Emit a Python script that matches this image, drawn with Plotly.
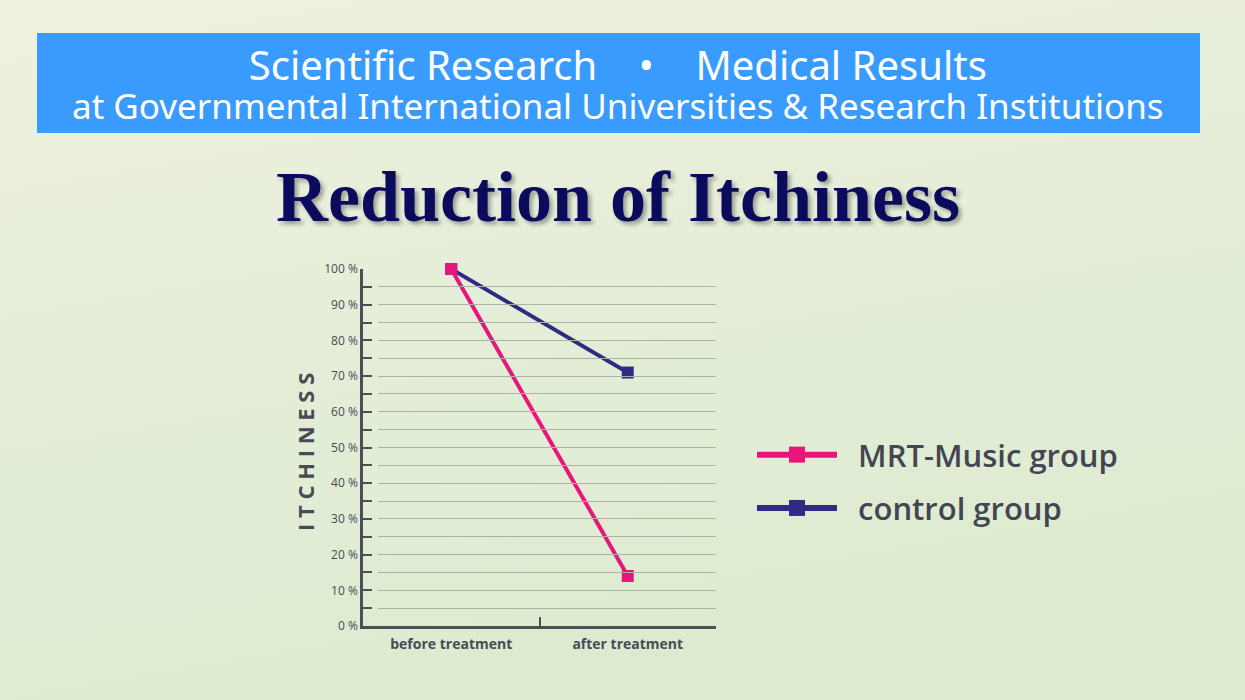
import base64
import plotly.graph_objects as go

categories = ["before treatment", "after treatment"]
mrt_values = [100, 14]
control_values = [100, 71]
series_names = ["MRT-Music group", "control group"]
y_tick_vals = [0, 10, 20, 30, 40, 50, 60, 70, 80, 90, 100]
y_tick_text = [f"{v} %" for v in y_tick_vals]
banner_line1 = "Scientific Research &nbsp;&nbsp;&nbsp;•&nbsp;&nbsp;&nbsp; Medical Results"
banner_line2 = "at Governmental International Universities &amp; Research Institutions"
title_text = "Reduction of Itchiness"
y_title = "I T C H I N E S S"

W, H = 1245, 700
PINK = "#e8157d"
NAVY = "#2f2b84"
BG = "#e4eed8"
TXT = "#4a4a58"
AX = "#4e4e58"

def px_x(v):
    return v / W

def px_y(v):
    return 1 - v / H

svg = ('<svg xmlns="http://www.w3.org/2000/svg" width="1245" height="700">'
       '<defs><linearGradient id="g" x1="0" y1="0" x2="0.3" y2="1">'
       '<stop offset="0" stop-color="#eef1de"/>'
       '<stop offset="0.5" stop-color="#e5eed8"/>'
       '<stop offset="1" stop-color="#dcebd0"/>'
       '</linearGradient></defs>'
       '<rect width="1245" height="700" fill="url(#g)"/></svg>')
bg_src = "data:image/svg+xml;base64," + base64.b64encode(svg.encode()).decode()

fig = go.Figure()

fig.add_trace(go.Scatter(x=categories, y=control_values, mode="lines+markers",
                         line=dict(color=NAVY, width=4),
                         marker=dict(symbol="square", size=12, color=NAVY),
                         cliponaxis=False, showlegend=False, name=series_names[1]))
fig.add_trace(go.Scatter(x=categories, y=mrt_values, mode="lines+markers",
                         line=dict(color=PINK, width=4),
                         marker=dict(symbol="square", size=12, color=PINK),
                         cliponaxis=False, showlegend=False, name=series_names[0]))

fig.add_trace(go.Scatter(x=[None], y=[None], mode="lines+markers",
                         name="\u00a0\u00a0" + series_names[0],
                         line=dict(color=PINK, width=6),
                         marker=dict(symbol="square", size=20, color=PINK),
                         legendgroup="a"))
fig.add_trace(go.Scatter(x=[None], y=[None], mode="lines+markers",
                         name="\u00a0\u00a0" + series_names[1],
                         line=dict(color=NAVY, width=6),
                         marker=dict(symbol="square", size=20, color=NAVY),
                         legendgroup="b"))

fig.add_trace(go.Scatter(x=categories, y=[None, None], xaxis="x2", yaxis="y2",
                         showlegend=False, hoverinfo="skip"))

x0, x1 = 363, 716
y_bot, y_top = 626, 269

fig.update_layout(
    width=W, height=H, autosize=False,
    margin=dict(l=0, r=0, t=0, b=0, pad=0, autoexpand=False),
    paper_bgcolor=BG, plot_bgcolor="rgba(0,0,0,0)",
    font=dict(family="Open Sans", color=TXT),
    images=[dict(source=bg_src, xref="paper", yref="paper", x=0, y=1,
                 sizex=1, sizey=1, xanchor="left", yanchor="top",
                 sizing="stretch", layer="below")],
    xaxis=dict(domain=[px_x(x0), px_x(x1)], type="category", range=[-0.5, 1.5],
               showline=True, linecolor=AX, linewidth=2.5,
               ticks="inside", tickson="boundaries", ticklen=9, tickwidth=2, tickcolor=AX,
               ticklabelstandoff=3,
               showgrid=False, zeroline=False, fixedrange=True,
               tickfont=dict(family="Open Sans", size=14, color=TXT, weight="bold")),
    yaxis=dict(domain=[px_y(y_bot), px_y(y_top)], range=[0, 100],
               showline=True, linecolor=AX, linewidth=2.5,
               tickvals=y_tick_vals, ticktext=y_tick_text,
               ticks="inside", ticklen=9, tickwidth=2, tickcolor=AX,
               minor=dict(dtick=5, ticks="inside", ticklen=9, tickwidth=2, tickcolor=AX),
               showgrid=False, zeroline=False, fixedrange=True,
               tickfont=dict(family="Open Sans", size=12, color="#4a4a55")),
    xaxis2=dict(domain=[px_x(378), px_x(x1)], type="category", range=[-0.5, 1.5],
                anchor="y2", showticklabels=False, showgrid=False,
                showline=False, zeroline=False, ticks="", fixedrange=True),
    yaxis2=dict(domain=[px_y(y_bot), px_y(y_top)], range=[0, 100], anchor="x2",
                showticklabels=False, ticks="", showline=False, zeroline=False,
                dtick=5, showgrid=True, gridcolor="#adb2a6", gridwidth=1.2, fixedrange=True),
    legend=dict(x=px_x(752), y=px_y(428), xanchor="left", yanchor="top",
                bgcolor="rgba(0,0,0,0)", itemwidth=80, tracegroupgap=10,
                traceorder="grouped",
                font=dict(family="Open Sans", size=31, color="#454552", weight=600)),
)

fig.add_shape(type="rect", xref="paper", yref="paper",
              x0=px_x(37), x1=px_x(1200), y0=px_y(133), y1=px_y(33),
              fillcolor="#3a9bff", line=dict(width=0), layer="below")

fig.add_annotation(xref="paper", yref="paper", x=px_x(618), y=px_y(83),
                   text=(f'<span style="font-size:40px">{banner_line1}</span><br>'
                         f'<span style="font-size:35px">{banner_line2}</span>'),
                   showarrow=False, xanchor="center", yanchor="middle",
                   font=dict(family="Noto Sans", size=30, color="white"))

fig.add_annotation(xref="paper", yref="paper", x=px_x(618), y=px_y(197),
                   text=title_text, showarrow=False,
                   xanchor="center", yanchor="middle",
                   font=dict(family="Liberation Serif", size=72,
                             color="#0b0b5e", weight="bold",
                             shadow="3px 3px 4px rgba(0,0,0,0.35)"))

fig.add_annotation(xref="paper", yref="paper", x=px_x(305), y=px_y(452),
                   text=y_title, showarrow=False, textangle=-90,
                   xanchor="center", yanchor="middle",
                   font=dict(family="Open Sans", size=22, color="#4a4a55", weight="bold"))

fig.write_html("out.html",
               config={"displayModeBar": False, "responsive": False},
               post_script="document.body.style.margin='0';document.body.style.overflow='hidden';")
